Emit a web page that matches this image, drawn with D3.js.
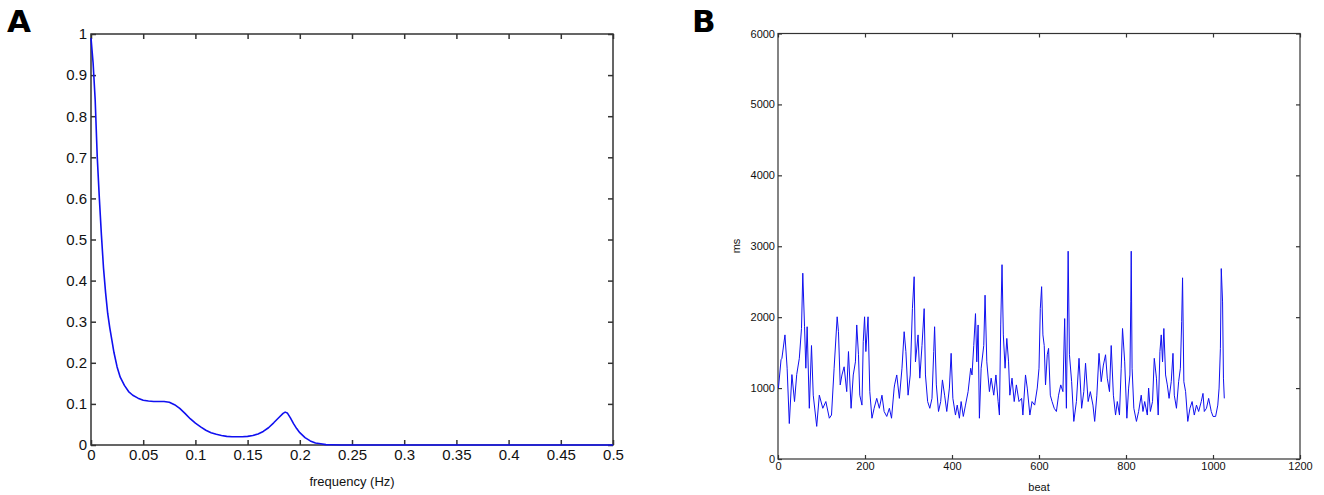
<!DOCTYPE html>
<html>
<head>
<meta charset="utf-8">
<script src="https://cdn.jsdelivr.net/npm/d3@7"></script>
<style>
body { margin: 0; background: #fff; }
svg { display: block; font-family: "Liberation Sans", Arial, sans-serif; }
</style>
</head>
<body>
<svg id="svg" width="1324" height="495"></svg>
<script>
const width = 1324;
const height = 495;
const lineColor = '#1010f0';
const frameColor = '#333';

// panel A: spectrum
const freqHz = [0, 0.002, 0.004, 0.006, 0.008, 0.01, 0.012, 0.014, 0.016, 0.018,
	0.02, 0.022, 0.025, 0.028, 0.032, 0.036, 0.04, 0.045, 0.05, 0.055,
	0.06, 0.065, 0.07, 0.075, 0.08, 0.085, 0.09, 0.095, 0.1, 0.105,
	0.11, 0.115, 0.12, 0.125, 0.13, 0.135, 0.14, 0.145, 0.15, 0.155,
	0.16, 0.165, 0.17, 0.175, 0.18, 0.184, 0.186, 0.188, 0.191, 0.194,
	0.197, 0.2, 0.205, 0.21, 0.215, 0.22, 0.225, 0.23, 0.24, 0.5];
const power = [0.99, 0.93, 0.84, 0.70, 0.60, 0.51, 0.43, 0.37, 0.32, 0.285,
	0.255, 0.225, 0.19, 0.165, 0.145, 0.13, 0.121, 0.114, 0.109, 0.107,
	0.106, 0.106, 0.106, 0.104, 0.098, 0.089, 0.077, 0.064, 0.053, 0.044,
	0.036, 0.030, 0.026, 0.023, 0.021, 0.020, 0.020, 0.020, 0.021, 0.023,
	0.027, 0.033, 0.042, 0.054, 0.067, 0.077, 0.080, 0.078, 0.066, 0.052,
	0.040, 0.030, 0.018, 0.010, 0.005, 0.003, 0.001, 0.0005, 0, 0];
const xTicksA = d3.range(0, 0.501, 0.05);
const yTicksA = d3.range(0, 1.001, 0.1);

// panel B: beat-to-beat intervals (ms)
const beat = [
	1, 7, 9, 16, 21, 26, 32, 38, 43, 49,
	54, 57, 61, 64, 67, 72, 77, 81, 89, 95,
	103, 110, 118, 123, 129, 136, 139, 143, 147, 152,
	158, 162, 168, 173, 178, 181, 185, 188, 193, 196,
	199, 202, 207, 211, 216, 221, 227, 233, 239, 244,
	250, 256, 261, 267,
	268, 273, 279, 285, 290, 294, 299, 304, 309, 313,
	316, 322, 326, 331, 336, 339, 344, 349, 354, 358,
	360, 364, 369, 374, 378, 383, 388, 394, 398, 402,
	408, 412, 417, 421, 426, 431, 437, 443, 446, 450,
	454, 457, 460, 463, 467, 473, 476, 480, 486, 490,
	496, 501, 506, 509, 512, 515, 518, 522, 526, 530,
	533, 538, 543, 548, 554, 560, 563, 569, 573, 579,
	584, 590, 596, 600, 603, 606, 609, 612, 615, 619,
	622, 626, 630, 635, 640, 645, 650, 655, 659, 663,
	667, 670, 675, 680, 686, 692, 698, 703, 707, 713,
	718, 724, 728, 733, 738, 743, 748, 753, 757, 762,
	766, 771, 776, 780, 785, 789, 792, 797, 802,
	806, 809, 811, 812, 814, 818, 824, 829, 835, 839,
	843, 849, 852, 856, 861, 865, 870, 874, 878, 881,
	884, 887, 891, 895, 899, 904, 908, 911, 916, 921,
	925, 928, 930, 933, 937, 942, 947, 952, 957, 962,
	967, 973, 977, 980, 985, 990, 996, 1000, 1006, 1011,
	1014, 1017, 1019, 1022, 1024, 1026];
const rrMs = [
	1000, 1400, 1420, 1750, 1280, 500, 1190, 810, 1190, 1420,
	1840, 2620, 1865, 1280, 1865, 715, 1600, 900, 460, 900,
	715, 810, 575, 620, 1280, 2005, 1795, 1045, 1185, 1300,
	950, 1515, 715, 1185, 1370, 1890, 1470, 900, 760, 1655,
	2005, 1515, 2005, 950, 575, 715, 855, 715, 900, 670,
	600, 715, 575, 1000,
	1045, 1185, 855, 1280, 1795, 1515, 900, 1185, 2120, 2570,
	1370, 1750, 1140, 1600, 2120, 1185, 810, 715, 855, 1515,
	1865, 1045, 670, 810, 1115, 900, 670, 1000, 1490, 855,
	620, 760, 575, 810, 600, 760, 950, 1280, 1185, 1600,
	2050, 1370, 1890, 575, 1280, 1600, 2310, 1370, 950, 1140,
	900, 1185, 810, 620, 1890, 2740, 1750, 1280, 1700, 1370,
	900, 1140, 810, 1045, 810, 855, 620, 1185, 1000, 620,
	810, 760, 1000, 1280, 2120, 2430, 1750, 1600, 1045, 1470,
	1560, 900, 810, 715, 670, 900, 1045, 950, 1980, 715,
	2930, 1470, 1090, 530, 810, 1420, 715, 950, 1350, 810,
	950, 760, 530, 900, 1490, 1090, 1325, 1470, 1140, 950,
	1600, 900, 620, 810, 620, 1280, 1840, 1370, 575,
	1000, 1185, 2215, 2930, 1280, 715, 530, 670, 900, 670,
	810, 620, 1000, 670, 810, 1420, 1140, 620, 1515, 1750,
	1370, 1840, 1185, 1045, 855, 1090, 1490, 900, 715, 1090,
	1280, 1935, 2555, 1090, 950, 530, 715, 810, 620, 760,
	670, 810, 925, 670, 715, 855, 670, 600, 600, 760,
	1000, 1560, 2685, 2215, 1140, 855];
const xTicksB = d3.range(0, 1201, 200);
const yTicksB = d3.range(0, 6001, 1000);

const svg = d3.select('#svg');

function drawPanel(opts) {
	const g = svg.append('g');
	const x = opts.x, y = opts.y;
	const [x0, x1] = x.range();
	const [y0, y1] = y.range();

	// inward ticks on all four sides
	g.append('g')
		.attr('transform', 'translate(0,' + y0 + ')')
		.call(d3.axisBottom(x).tickValues(opts.xTicks).tickSizeInner(-opts.tick).tickSizeOuter(0)
			.tickPadding(opts.pad).tickFormat(opts.xFmt))
		.call(a => a.select('.domain').remove());
	g.append('g')
		.attr('transform', 'translate(0,' + y1 + ')')
		.call(d3.axisTop(x).tickValues(opts.xTicks).tickSizeInner(-opts.tick).tickSizeOuter(0).tickFormat(''))
		.call(a => a.select('.domain').remove());
	g.append('g')
		.attr('transform', 'translate(' + x0 + ',0)')
		.call(d3.axisLeft(y).tickValues(opts.yTicks).tickSizeInner(-opts.tick).tickSizeOuter(0)
			.tickPadding(opts.pad).tickFormat(opts.yFmt))
		.call(a => a.select('.domain').remove());
	g.append('g')
		.attr('transform', 'translate(' + x1 + ',0)')
		.call(d3.axisRight(y).tickValues(opts.yTicks).tickSizeInner(-opts.tick).tickSizeOuter(0).tickFormat(''))
		.call(a => a.select('.domain').remove());

	g.selectAll('.tick line').attr('stroke', frameColor).attr('stroke-width', opts.frameW);
	g.selectAll('.tick text')
		.attr('fill', '#111')
		.style('font-size', opts.fontSize + 'px')
		.style('font-family', '"Liberation Sans", Arial, sans-serif');

	g.append('rect')
		.attr('x', x0).attr('y', y1)
		.attr('width', x1 - x0).attr('height', y0 - y1)
		.attr('fill', 'none')
		.attr('stroke', frameColor)
		.attr('stroke-width', opts.frameW);

	g.append('path')
		.datum(opts.xs.map((d, i) => [d, opts.ys[i]]))
		.attr('fill', 'none')
		.attr('stroke', lineColor)
		.attr('stroke-width', opts.lineW)
		.attr('stroke-linejoin', 'round')
		.attr('d', d3.line().x(d => x(d[0])).y(d => y(d[1])));

	return g;
}

// panel A
const xA = d3.scaleLinear().domain([0, 0.5]).range([91, 613]);
const yA = d3.scaleLinear().domain([0, 1]).range([445, 34]);
drawPanel({
	x: xA, y: yA, xTicks: xTicksA, yTicks: yTicksA,
	xFmt: d => d3.format('')(+d.toFixed(2)), yFmt: d => d3.format('')(+d.toFixed(1)),
	xs: freqHz, ys: power,
	tick: 5, pad: 4, fontSize: 15, frameW: 1.5, lineW: 1.6
});
svg.append('text')
	.attr('x', 352).attr('y', 486)
	.attr('text-anchor', 'middle')
	.style('font-size', '13px')
	.attr('fill', '#111')
	.text('frequency (Hz)');

// panel B
const xB = d3.scaleLinear().domain([0, 1200]).range([778, 1300]);
const yB = d3.scaleLinear().domain([0, 6000]).range([459, 33.5]);
drawPanel({
	x: xB, y: yB, xTicks: xTicksB, yTicks: yTicksB,
	xFmt: d3.format('d'), yFmt: d3.format('d'),
	xs: beat, ys: rrMs,
	tick: 4, pad: 3, fontSize: 11, frameW: 1.2, lineW: 1
});
svg.append('text')
	.attr('x', 1039).attr('y', 491)
	.attr('text-anchor', 'middle')
	.style('font-size', '11px')
	.attr('fill', '#111')
	.text('beat');
svg.append('text')
	.attr('transform', 'translate(740,246) rotate(-90)')
	.attr('text-anchor', 'middle')
	.style('font-size', '11px')
	.attr('fill', '#111')
	.text('ms');

// panel letters
svg.append('text')
	.attr('x', 7).attr('y', 32)
	.style('font-size', '31px').style('font-weight', 'bold')
	.style('font-family', '"DejaVu Sans", Arial, sans-serif')
	.text('A');
svg.append('text')
	.attr('x', 692).attr('y', 32)
	.style('font-size', '31px').style('font-weight', 'bold')
	.style('font-family', '"DejaVu Sans", Arial, sans-serif')
	.text('B');
</script>
</body>
</html>
